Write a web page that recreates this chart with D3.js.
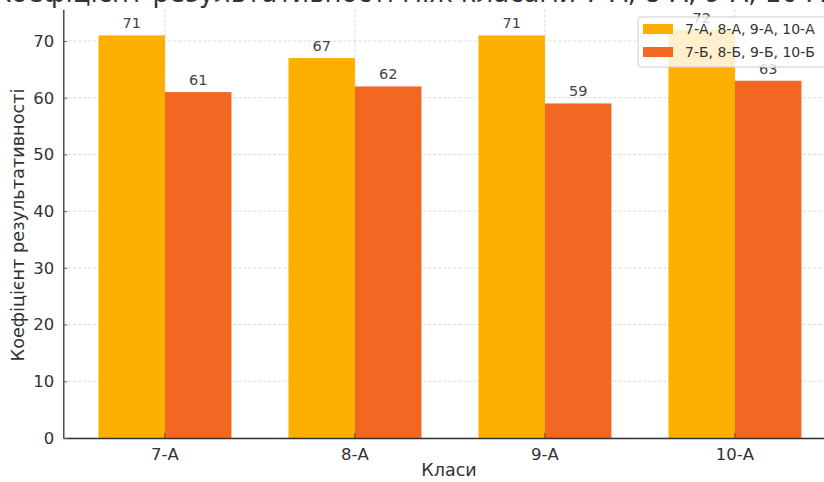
<!DOCTYPE html>
<html>
<head>
<meta charset="utf-8">
<script src="https://cdn.jsdelivr.net/npm/d3@7"></script>
<style>
  html, body { margin: 0; padding: 0; background: #fff; }
  svg { display: block; font-family: "DejaVu Sans", sans-serif; }
</style>
</head>
<body>
<svg id="chart" width="824" height="482"></svg>
<script>
// Class groups on the x axis
const classes = ["7-А", "8-А", "9-А", "10-А"];
// Series names
const seriesNames = ["7-А, 8-А, 9-А, 10-А", "7-Б, 8-Б, 9-Б, 10-Б"];
// Efficiency coefficients for each series
const seriesA = [71, 67, 71, 72];
const seriesB = [61, 62, 59, 63];
const yTicks = [0, 10, 20, 30, 40, 50, 60, 70];
const colors = ["#FDAF00", "#F26822"];

const titleText = "Коефіцієнт результативності між класами 7-А, 8-А, 9-А, 10-А та 7-Б, 8-Б, 9-Б, 10-Б";
const xLabel = "Класи";
const yLabel = "Коефіцієнт результативності";

const svg = d3.select("#chart");
const plot = { left: 63.3, right: 836.6, top: 9.3, bottom: 438 };

const x = d3.scaleBand()
  .domain(classes)
  .range([plot.left, plot.right])
  .paddingInner(0.3)
  .paddingOuter(0.185);

const xSub = d3.scaleBand()
  .domain([0, 1])
  .range([0, x.bandwidth()]);

const y = d3.scaleLinear()
  .domain([0, 75.6])
  .range([plot.bottom, plot.top]);

// dashed grid behind the bars
const grid = svg.append("g").attr("stroke", "#d0d0d0").attr("stroke-dasharray", "3,2").attr("stroke-width", 0.8);
grid.selectAll("line.h").data(yTicks).join("line")
  .attr("x1", plot.left).attr("x2", plot.right)
  .attr("y1", d => y(d)).attr("y2", d => y(d));
grid.selectAll("line.v").data(classes).join("line")
  .attr("x1", d => x(d) + x.bandwidth() / 2).attr("x2", d => x(d) + x.bandwidth() / 2)
  .attr("y1", plot.top).attr("y2", plot.bottom);

const series = [seriesA, seriesB];
series.forEach((vals, s) => {
  const g = svg.append("g");
  g.selectAll("rect").data(vals).join("rect")
    .attr("x", (d, i) => x(classes[i]) + xSub(s))
    .attr("width", xSub.bandwidth())
    .attr("y", d => y(d))
    .attr("height", d => y(0) - y(d))
    .attr("fill", colors[s]);
  g.selectAll("text").data(vals).join("text")
    .attr("x", (d, i) => x(classes[i]) + xSub(s) + xSub.bandwidth() / 2)
    .attr("y", d => y(d) - 7)
    .attr("text-anchor", "middle")
    .attr("font-size", 14.5)
    .attr("fill", "#444")
    .text(d => d);
});

// axes
const xAxis = d3.axisBottom(x).tickSizeInner(-5).tickSizeOuter(0).tickPadding(10);
const gx = svg.append("g").attr("transform", `translate(0,${plot.bottom})`).call(xAxis);
gx.select(".domain").attr("stroke", "#333").attr("stroke-width", 1.3);
gx.selectAll(".tick line").attr("stroke", "#444");
gx.selectAll(".tick text").attr("font-size", 16.5).attr("fill", "#333").attr("font-family", "DejaVu Sans");

const yAxis = d3.axisLeft(y).tickValues(yTicks).tickSizeInner(-4).tickSizeOuter(0).tickPadding(9);
const gy = svg.append("g").attr("transform", `translate(${plot.left},0)`).call(yAxis);
gy.select(".domain").attr("stroke", "#333").attr("stroke-width", 1.3);
gy.selectAll(".tick line").attr("stroke", "#666");
gy.selectAll(".tick text").attr("font-size", 16.5).attr("fill", "#333").attr("font-family", "DejaVu Sans");

svg.append("text")
  .attr("x", 449).attr("y", 476)
  .attr("text-anchor", "middle").attr("font-size", 17.5).attr("fill", "#333")
  .text(xLabel);

svg.append("text")
  .attr("transform", `translate(24,${225}) rotate(-90)`)
  .attr("text-anchor", "middle").attr("font-size", 17.7).attr("fill", "#333")
  .text(yLabel);

// title, running past the top edge
svg.append("text")
  .attr("x", -7).attr("y", 2)
  .attr("text-anchor", "start").attr("font-size", 26).attr("fill", "#333")
  .text(titleText);

// legend
const lg = svg.append("g").attr("transform", "translate(638,17)");
lg.append("rect").attr("width", 194).attr("height", 50).attr("rx", 3)
  .attr("fill", "#fff").attr("fill-opacity", 0.8).attr("stroke", "#ccc");
seriesNames.forEach((n, i) => {
  lg.append("rect").attr("x", 5).attr("y", 7 + i * 23).attr("width", 30).attr("height", 10).attr("fill", colors[i]);
  lg.append("text").attr("x", 47).attr("y", 17 + i * 23).attr("font-size", 14).attr("fill", "#333").text(n);
});
</script>
</body>
</html>
